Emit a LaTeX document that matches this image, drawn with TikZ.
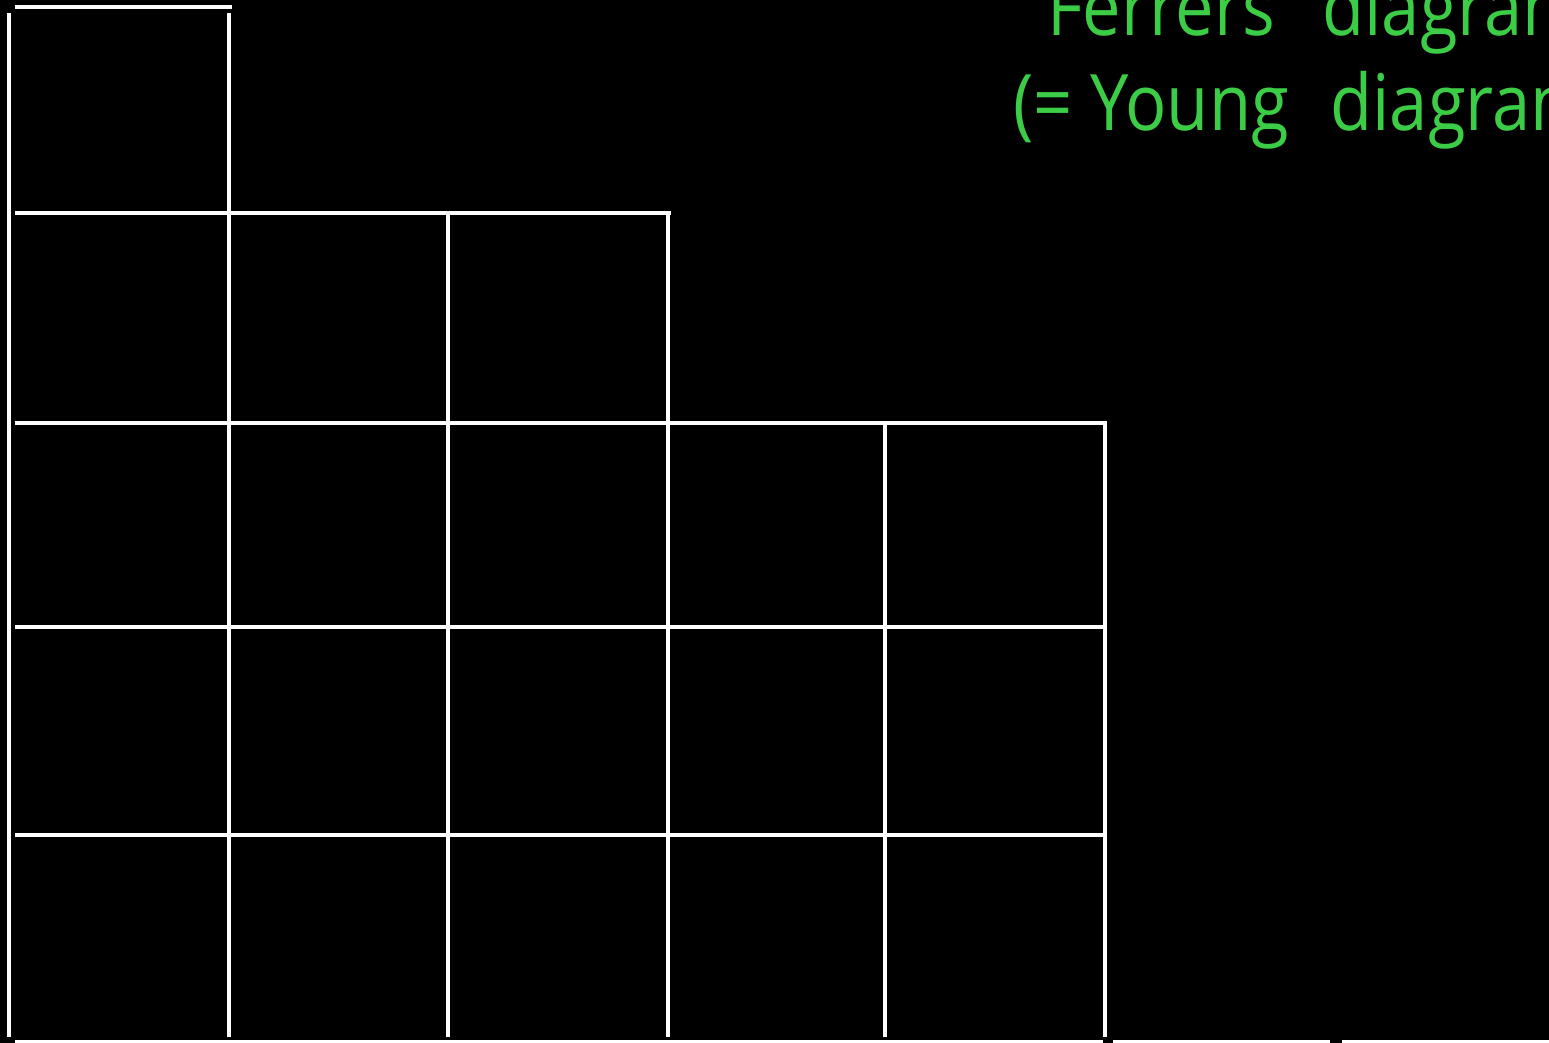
\documentclass[tikz,border=0pt]{standalone}
\usepackage{fontspec}
\setmainfont[FakeStretch=0.88]{Open Sans}
\usepackage{tikz}
\usepackage{xcolor}
\definecolor{slidegreen}{RGB}{60,205,70}

\begin{document}
\begin{tikzpicture}[x=0.5pt,y=-0.5pt,
  cell/.style={white,line width=1.6pt},
  word/.style={anchor=base west,inner sep=0pt,text=slidegreen,
    font=\fontsize{39}{47}\selectfont}]
  \fill[black] (0,0) rectangle (1549,1043);
  \useasboundingbox (0,0) rectangle (1549,1043);
  \clip (0,0) rectangle (1549,1043);
  % rows of the diagram: y / from / to
  \foreach \y/\xa/\xb in {7/15/232,213/15/671,423/15/1107,627/15/1104,
                          835/15/1104,1042/15/1103,1042/1113/1330,1042/1342/1560}{
    \draw[cell] (\xa,\y)--(\xb,\y);
  }
  % columns: x / from / to
  \foreach \x/\ya/\yb in {9/13/1037,229/13/1037,448/213/1037,668/215/1037,
                          885/423/1037,1105/423/1037}{
    \draw[cell] (\x,\ya)--(\x,\yb);
  }
  \node[word] (ferrers) at (1047,36) {Ferrers};
  \node[word] (diagA) at (1322,36) {diagram};
  \node[word] (paren) at (1013,131) {(=};
  \node[word] (young) at (1090,131) {Young};
  \node[word] (diagB) at (1330,131) {diagram)};
\end{tikzpicture}
\end{document}
